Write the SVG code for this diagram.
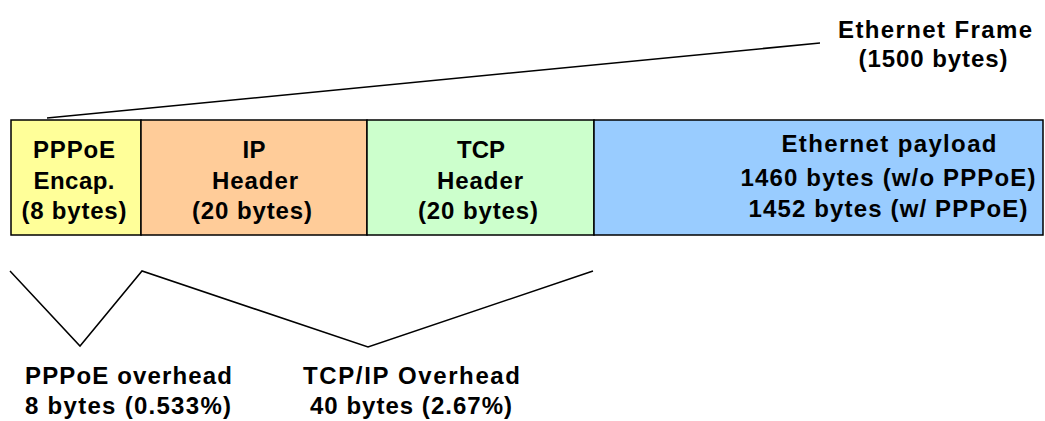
<svg xmlns="http://www.w3.org/2000/svg" width="1045" height="421" viewBox="0 0 1045 421">
  <style>
    .lbl { font-family: "Liberation Sans", Arial, sans-serif; font-size: 24px; font-weight: bold; fill: #000; }
    .mid { text-anchor: middle; }
    .box { stroke: #000; stroke-width: 1.5; }
    .wire { fill: none; stroke: #000; stroke-width: 1.5; }
  </style>
  <rect width="1045" height="421" fill="#fff"/>

  <g id="connectors">
    <!-- frame span pointer -->
    <line class="wire" x1="47" y1="118" x2="820" y2="43" stroke-width="2"/>
    <!-- overhead braces -->
    <polyline class="wire" points="10,271 80,346 142,271 368,347 593,271"/>
  </g>

  <g id="frame-label">
    <text class="lbl mid" x="935" y="38" textLength="194" lengthAdjust="spacing">Ethernet Frame</text>
    <text class="lbl mid" x="933" y="67" textLength="149" lengthAdjust="spacing">(1500 bytes)</text>
  </g>

  <g id="pppoe">
    <rect class="box" x="11" y="120" width="130" height="115" fill="#ffff99"/>
    <text class="lbl mid" x="74" y="158" textLength="82" lengthAdjust="spacing">PPPoE</text>
    <text class="lbl mid" x="74" y="189" textLength="81" lengthAdjust="spacing">Encap.</text>
    <text class="lbl mid" x="74" y="219" textLength="105" lengthAdjust="spacing">(8 bytes)</text>
  </g>

  <g id="ip">
    <rect class="box" x="141" y="120" width="226" height="115" fill="#ffcc99"/>
    <text class="lbl mid" x="254" y="158" textLength="23" lengthAdjust="spacing">IP</text>
    <text class="lbl mid" x="255" y="189" textLength="86" lengthAdjust="spacing">Header</text>
    <text class="lbl mid" x="252" y="219" textLength="120" lengthAdjust="spacing">(20 bytes)</text>
  </g>

  <g id="tcp">
    <rect class="box" x="367" y="120" width="227" height="115" fill="#ccffcc"/>
    <text class="lbl mid" x="481" y="158" textLength="48" lengthAdjust="spacing">TCP</text>
    <text class="lbl mid" x="480" y="189" textLength="86" lengthAdjust="spacing">Header</text>
    <text class="lbl mid" x="478" y="219" textLength="120" lengthAdjust="spacing">(20 bytes)</text>
  </g>

  <g id="payload">
    <rect class="box" x="594" y="120" width="449" height="115" fill="#99ccff"/>
    <text class="lbl mid" x="889" y="152" textLength="215" lengthAdjust="spacing">Ethernet payload</text>
    <text class="lbl mid" x="888" y="186" textLength="295" lengthAdjust="spacing">1460 bytes (w/o PPPoE)</text>
    <text class="lbl mid" x="888" y="217" textLength="279" lengthAdjust="spacing">1452 bytes (w/ PPPoE)</text>
  </g>

  <g id="pppoe-overhead">
    <text class="lbl" x="25" y="384" textLength="207" lengthAdjust="spacing">PPPoE overhead</text>
    <text class="lbl" x="25" y="414" textLength="206" lengthAdjust="spacing">8 bytes (0.533%)</text>
  </g>

  <g id="tcpip-overhead">
    <text class="lbl" x="303" y="384" textLength="217" lengthAdjust="spacing">TCP/IP Overhead</text>
    <text class="lbl" x="310" y="414" textLength="202" lengthAdjust="spacing">40 bytes (2.67%)</text>
  </g>
</svg>
